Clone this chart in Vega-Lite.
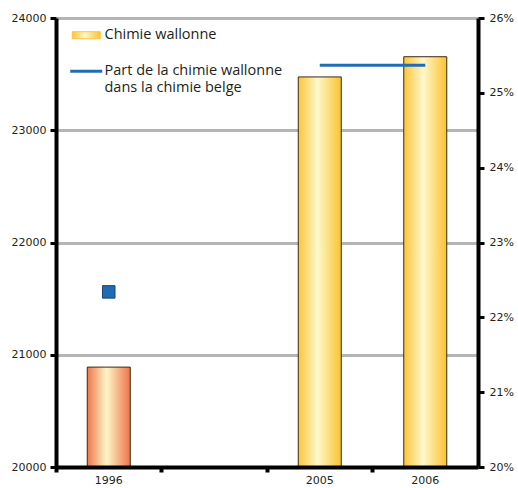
{
  "$schema": "https://vega.github.io/schema/vega-lite/v6.json",
  "width": 422,
  "height": 449,
  "autosize": "none",
  "padding": {"left": 56, "top": 18, "right": 40, "bottom": 21},
  "background": "#ffffff",
  "datasets": {
    "emplois": [
      {"annee": "1996", "emplois": 20890},
      {"annee": "2005", "emplois": 23475},
      {"annee": "2006", "emplois": 23655}
    ],
    "part": [
      {"annee": "1996", "part": 0.2234, "serie": "Part de la chimie wallonne dans la chimie belge"},
      {"annee": "2005", "part": 0.2537, "serie": "Part de la chimie wallonne dans la chimie belge"},
      {"annee": "2006", "part": 0.2537, "serie": "Part de la chimie wallonne dans la chimie belge"}
    ]
  },
  "config": {
    "view": {"stroke": null},
    "axis": {
      "labelFont": "DejaVu Sans",
      "labelFontSize": 11,
      "labelColor": "#231f20",
      "domainColor": "#000000",
      "domainWidth": 4,
      "tickColor": "#000000",
      "tickWidth": 3,
      "tickSize": 6,
      "labelPadding": 4,
      "title": null
    },
    "legend": {
      "labelFont": "Open Sans",
      "labelFontSize": 14.5,
      "labelColor": "#231f20",
      "labelLimit": 400
    }
  },
  "layer": [
    {
      "data": {"name": "emplois"},
      "encoding": {
        "x": {
          "field": "annee",
          "type": "nominal",
          "scale": {"domain": ["1996", " ", "2005", "2006"], "paddingInner": 0, "paddingOuter": 0},
          "axis": {"orient": "bottom", "bandPosition": 0, "labelAngle": 0, "tickWidth": 4, "tickSize": 5, "labelPadding": 2, "zindex": 1, "grid": false}
        },
        "y": {
          "field": "emplois",
          "type": "quantitative",
          "scale": {"domain": [20000, 24000], "zero": false, "nice": false},
          "axis": {"orient": "left", "values": [20000, 21000, 22000, 23000, 24000], "format": "d", "grid": true, "gridColor": "#b5b5b5", "gridWidth": 3, "zindex": 0}
        }
      },
      "layer": [
        {
          "transform": [{"filter": "datum.annee == '1996'"}],
          "mark": {
            "type": "bar",
            "clip": true,
            "width": 43,
            "stroke": "#3a2a10",
            "strokeWidth": 1,
            "fill": {
              "gradient": "linear", "x1": 0, "y1": 0, "x2": 1, "y2": 0,
              "stops": [
                {"offset": 0, "color": "#ef774c"},
                {"offset": 0.45, "color": "#fdf6c6"},
                {"offset": 1, "color": "#ee744a"}
              ]
            }
          }
        },
        {
          "transform": [{"filter": "datum.annee != '1996'"}],
          "mark": {
            "type": "bar",
            "clip": true,
            "width": 43,
            "stroke": "#3a2a10",
            "strokeWidth": 1,
            "fill": {
              "gradient": "linear", "x1": 0, "y1": 0, "x2": 1, "y2": 0,
              "stops": [
                {"offset": 0, "color": "#fcc43a"},
                {"offset": 0.45, "color": "#fdf8cb"},
                {"offset": 1, "color": "#fcc232"}
              ]
            }
          }
        }
      ]
    },
    {
      "data": {"name": "part"},
      "encoding": {
        "x": {"field": "annee", "type": "nominal"},
        "y": {
          "field": "part",
          "type": "quantitative",
          "scale": {"domain": [0.2, 0.26], "zero": false, "nice": false},
          "axis": {"orient": "right", "values": [0.2, 0.21, 0.22, 0.23, 0.24, 0.25, 0.26], "format": ".0%", "grid": false, "labelPadding": 5, "zindex": 1}
        }
      },
      "layer": [
        {
          "transform": [{"filter": "datum.annee != '1996'"}],
          "mark": {"type": "line", "strokeWidth": 3},
          "encoding": {
            "color": {
              "field": "serie",
              "type": "nominal",
              "scale": {
                "domain": ["Chimie wallonne", "Part de la chimie wallonne dans la chimie belge"],
                "range": ["#fcc43a", "#1f6db5"]
              },
              "legend": {
                "title": null,
                "orient": "none",
                "legendX": 23,
                "legendY": 10,
                "padding": 0,
                "rowPadding": 21,
                "labelOffset": 11,
                "symbolSize": 1024,
                "labelBaseline": "top",
                "labelExpr": "datum.label == 'Part de la chimie wallonne dans la chimie belge' ? ['Part de la chimie wallonne', 'dans la chimie belge'] : datum.label",
                "encode": {
                  "symbols": {
                    "update": {
                      "shape": {"signal": "datum.value === 'Chimie wallonne' ? 'M-0.875,-0.22H0.875V0.22H-0.875Z' : 'M-1,0H1'"},
                      "fill": {"signal": "datum.value === 'Chimie wallonne' ? {gradient: 'linear', x1: 0, y1: 0, x2: 1, y2: 0, stops: [{offset: 0, color: '#fcc43a'}, {offset: 0.45, color: '#fdf8cb'}, {offset: 1, color: '#fcc232'}]} : 'transparent'"},
                      "stroke": {"signal": "datum.value === 'Chimie wallonne' ? '#3a2a10' : '#1f6db5'"},
                      "strokeWidth": {"signal": "datum.value === 'Chimie wallonne' ? 1 : 3"}
                    }
                  },
                  "labels": {"update": {"dy": {"value": -7}}}
                }
              }
            }
          }
        },
        {
          "transform": [{"filter": "datum.annee == '1996'"}],
          "mark": {"type": "point", "shape": "square", "size": 156, "filled": true, "fill": "#1f6cb0", "stroke": "#17457a", "strokeWidth": 1, "opacity": 1}
        }
      ]
    }
  ],
  "resolve": {"scale": {"y": "independent"}, "axis": {"y": "independent"}}
}
